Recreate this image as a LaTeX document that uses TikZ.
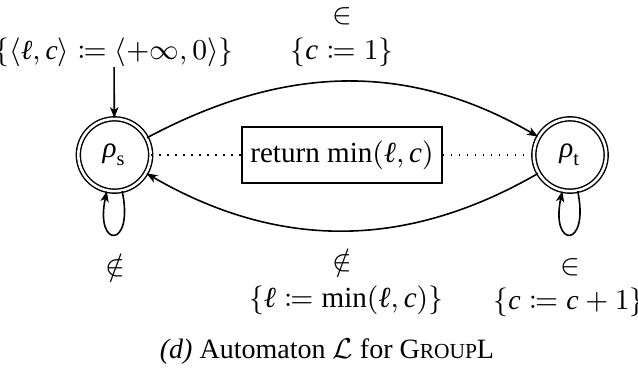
\documentclass[tikz,border=0pt]{standalone}
\usepackage{mathtools}
\usepackage{fontspec}
\setmainfont{Liberation Serif}
\usetikzlibrary{arrows.meta}
\newcommand\vc{\mathit{c}}
\newcommand\vl{\text{\itshape ℓ}}
\newcommand\vr{\text{\itshape ρ}}
\tikzset{
  state/.style={circle,draw,double,double distance=0.8pt,line width=0.45pt,minimum size=22.6pt,inner sep=0pt,font=\fontsize{9.1}{11}\selectfont},
  retbox/.style={draw,line width=0.45pt,minimum width=62.6pt,minimum height=17.4pt,inner sep=0pt,font=\fontsize{9.1}{11}\selectfont},
  lbl/.style={inner sep=0pt,font=\fontsize{9.1}{11}\selectfont},
  conn/.style={-{Stealth[length=3.4pt,width=2.6pt,inset=0.9pt]},line width=0.5pt},
  dots/.style={dotted,line width=0.5pt}
}
\begin{document}
\begin{tikzpicture}[x=0.3125pt,y=0.3125pt]
\useasboundingbox (0,0) rectangle (638,373);
\node[state] (s) at (114.5,218) {$\vr_{\mathrm{s}}$};
\node[state] (t) at (570,218) {$\vr_{\mathrm{t}}$};
\node[retbox] (r) at (342,218) {return $\min(\vl,\vc)$};
\node[lbl,font=\fontsize{8.6}{10}\selectfont] (init) at (114,321) {$\{\langle\vl,\vc\rangle\coloneqq\langle+\infty,0\rangle\}$};
\node[lbl] (tin) at (342,357) {$\in$};
\node[lbl] (tup) at (342,321) {$\{\vc\coloneqq1\}$};
\node[lbl] (bnin) at (342,113) {$\notin$};
\node[lbl] (bup) at (346,73) {$\{\vl\coloneqq\min(\vl,\vc)\}$};
\node[lbl] (snin) at (115,108) {$\notin$};
\node[lbl] (tin2) at (570,106) {$\in$};
\node[lbl,font=\fontsize{8.7}{10}\selectfont] (tup2) at (569,71) {$\{\vc\coloneqq \vc+1\}$};
\node[lbl,font=\fontsize{8.75}{10}\selectfont] (cap) at (327,21) {\textit{(d)} Automaton $\mathcal{L}$ for G{\fontsize{6.7}{8}\selectfont ROUP}L};
\draw[conn] (init) -- (s);
\draw[conn] (s) to[out=28,in=150] (t);
\draw[conn] (t) to[out=210,in=-30] (s);
\draw[conn] (s) to[out=-78,in=-102,distance=18.5pt] (s);
\draw[conn] (t) to[out=-78,in=-102,distance=18.5pt] (t);
\draw[dots] (s) -- (r);
\draw[dots] (r) -- (t);
\end{tikzpicture}
\end{document}
